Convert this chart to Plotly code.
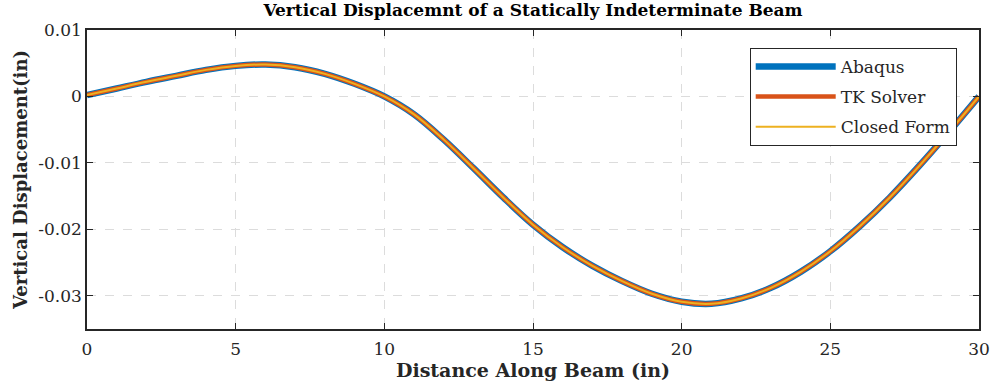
import plotly.graph_objects as go

# Beam position (in) and vertical displacement (in)
distance = [0, 1, 2, 3, 4, 5, 6, 7, 8, 9, 10, 11, 12, 13, 14, 15,
            16, 17, 18, 19, 20, 21, 22, 23, 24, 25, 26, 27, 28, 29, 30]
displacement = [0.0002, 0.0012, 0.0022, 0.0031, 0.0040, 0.0046, 0.0048, 0.0044,
                0.0034, 0.0019, 0.0000, -0.0027, -0.0065, -0.0108, -0.0152,
                -0.0193, -0.0227, -0.0255, -0.0278, -0.0297, -0.0309, -0.0312,
                -0.0304, -0.0288, -0.0264, -0.0233, -0.0195, -0.0152, -0.0104,
                -0.0053, 0.0000]

series_names = ["Abaqus", "TK Solver", "Closed Form"]
series_colors = ["#0072BD", "#D95319", "#EDB120"]
series_widths = [6.5, 4.5, 2]

x_ticks = [0, 5, 10, 15, 20, 25, 30]
y_ticks = [0.01, 0, -0.01, -0.02, -0.03]
y_tick_text = ["0.01", "0", "-0.01", "-0.02", "-0.03"]

FONT = "DejaVu Serif"
AXIS_COLOR = "#262626"

fig = go.Figure()
for name, color, width in zip(series_names, series_colors, series_widths):
    fig.add_trace(go.Scatter(
        x=distance, y=displacement, name=name, mode="lines", legendgroup=name,
        line=dict(color=color, width=width, shape="spline", smoothing=1.0),
    ))

axis_common = dict(
    showline=True, linecolor=AXIS_COLOR, linewidth=1.5, mirror="ticks",
    ticks="inside", ticklen=6, tickcolor=AXIS_COLOR, tickwidth=1,
    showgrid=True, gridcolor="#dcdcdc", griddash="dash", gridwidth=1,
    zeroline=False, tickfont=dict(family=FONT, size=17, color=AXIS_COLOR),
    automargin=False,
)

fig.update_xaxes(
    range=[0, 30], tickvals=x_ticks, ticklabelstandoff=4,
    title=dict(text="<b>Distance Along Beam (in)</b>", standoff=4,
               font=dict(family=FONT, size=19, color=AXIS_COLOR)),
    **axis_common,
)
fig.update_yaxes(
    range=[-0.035, 0.01], tickvals=y_ticks, ticktext=y_tick_text,
    title=dict(text="<b>Vertical Displacement(in)</b>", standoff=6,
               font=dict(family=FONT, size=18, color=AXIS_COLOR)),
    **axis_common,
)

fig.update_layout(
    width=993, height=385,
    margin=dict(l=87, r=14, t=30, b=56),
    paper_bgcolor="white", plot_bgcolor="white",
    title=dict(text="<b>Vertical Displacemnt of a Statically Indeterminate Beam</b>",
               x=0.5, xref="paper", xanchor="center", y=0.99, yanchor="top",
               font=dict(family=FONT, size=17, color="black")),
    legend=dict(
        x=0.975, y=0.94, xanchor="right", yanchor="top",
        bgcolor="white", bordercolor=AXIS_COLOR, borderwidth=1,
        font=dict(family=FONT, size=17, color=AXIS_COLOR),
        itemwidth=80, traceorder="grouped", tracegroupgap=5,
    ),
    showlegend=True,
)

fig.write_html("out.html")
